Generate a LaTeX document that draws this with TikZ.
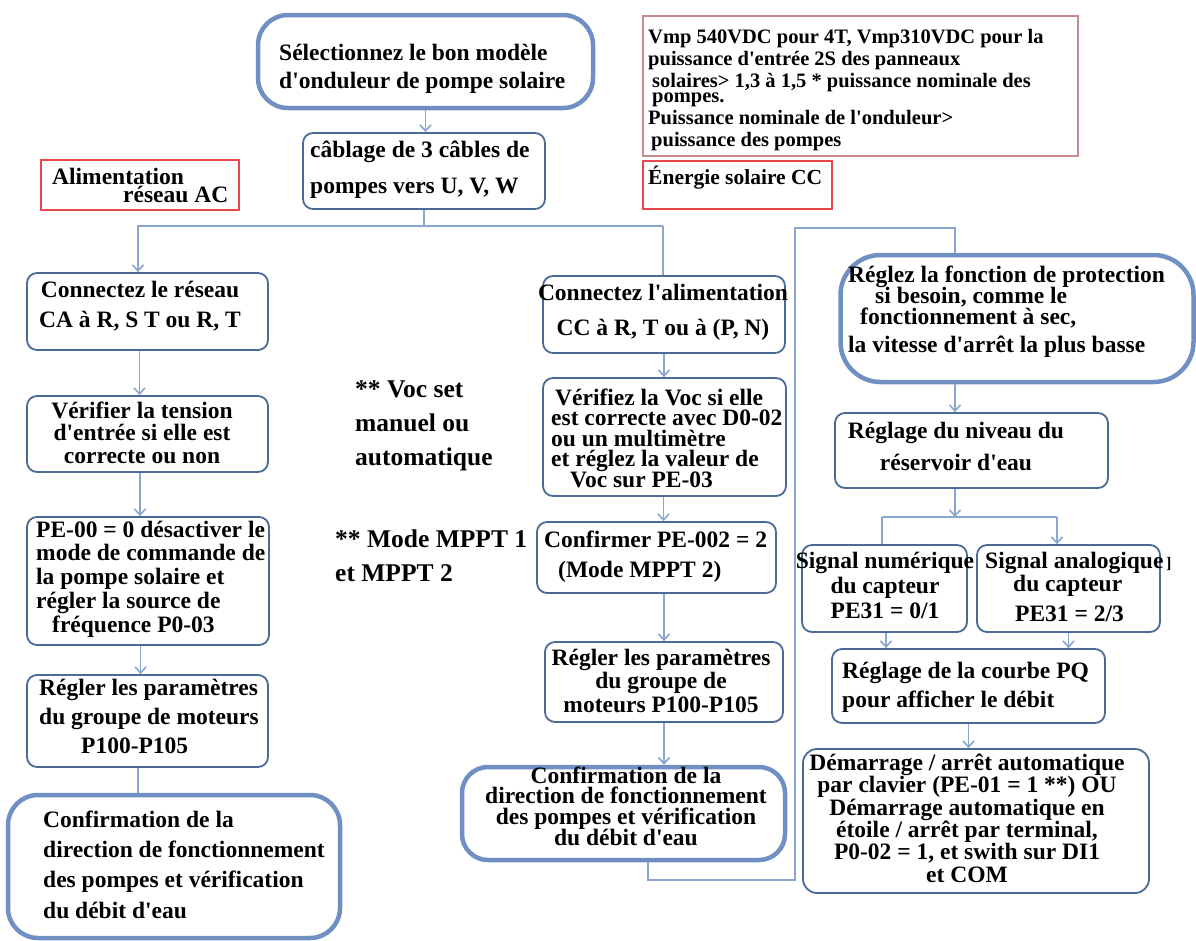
\documentclass[tikz,border=0pt]{standalone}
\usepackage{fontspec}
\setmainfont{Liberation Serif}
\usetikzlibrary{arrows.meta}
\definecolor{boxc}{HTML}{4A6A98}
\definecolor{bigc}{HTML}{7090C4}
\definecolor{linec}{HTML}{8AA6D0}
\definecolor{redc}{HTML}{E8474B}
\definecolor{pinkc}{HTML}{C98A8E}
\newcommand\myfs[2]{\bfseries\fontsize{#1}{#2}\selectfont\lineskiplimit=-100pt\relax}
\newcommand\myst{\rule{0pt}{24pt}}
\newcommand\ap{\textquotesingle}
\tikzset{
  box/.style={draw=boxc, line width=1.8pt, rounded corners=10pt},
  bigbox/.style={draw=bigc, line width=4.5pt, rounded corners=30pt},
  redbox/.style={draw=redc, line width=1.2pt},
  pinkbox/.style={draw=pinkc, line width=1.4pt},
  txt/.style={inner sep=0pt, text=black},
  ln/.style={draw=linec, line width=1.6pt},
  arr/.style={ln, -{Straight Barb[length=6pt,width=11pt]}},
}
\begin{document}
\begin{tikzpicture}[x=1pt, y=-1pt]
\fill[white] (0,0) rectangle (1196,940);
\useasboundingbox (0,0) rectangle (1196,940);

% ---- boxes ----
\node[bigbox, minimum width=335pt, minimum height=93pt] (A) at (425.5,61.5) {};
\node[box, minimum width=242pt, minimum height=76pt] (B) at (424,171) {};
\node[pinkbox, minimum width=435pt, minimum height=140pt] (V) at (860.5,86) {};
\node[redbox, minimum width=189pt, minimum height=48pt] (E) at (737.5,185) {};
\node[redbox, minimum width=198pt, minimum height=50pt] (AL) at (140,185) {};

\node[box, minimum width=241pt, minimum height=77pt] (C1) at (147.5,311.5) {};
\node[box, minimum width=241pt, minimum height=76pt] (C2) at (147.5,434) {};
\node[box, minimum width=242pt, minimum height=128pt] (C3) at (148,581) {};
\node[box, minimum width=241pt, minimum height=92pt] (C4) at (147.5,721) {};
\node[bigbox, minimum width=332pt, minimum height=143pt] (C5) at (174,866.5) {};

\node[box, minimum width=242pt, minimum height=77pt] (M1) at (664,314.5) {};
\node[box, minimum width=243pt, minimum height=118pt] (M2) at (664.5,437) {};
\node[box, minimum width=239pt, minimum height=71pt] (M3) at (656.5,557.5) {};
\node[box, minimum width=238pt, minimum height=80pt] (M4) at (664,682) {};
\node[bigbox, rounded corners=26pt, minimum width=323pt, minimum height=93pt] (M5) at (623.5,813.5) {};

\node[bigbox, rounded corners=40pt, minimum width=353pt, minimum height=127pt] (R1) at (1017,318.5) {};
\node[box, minimum width=273pt, minimum height=75pt] (R2) at (971.5,450.5) {};
\node[box, minimum width=165pt, minimum height=87pt] (R3a) at (884.5,588.5) {};
\node[box, minimum width=183pt, minimum height=87pt] (R3b) at (1068.5,588.5) {};
\node[box, minimum width=273pt, minimum height=74pt] (R4) at (968.5,686) {};
\node[box, rounded corners=14pt, minimum width=346pt, minimum height=144pt] (R5) at (976,821) {};

% ---- texts ----
\node[txt, anchor=north west, align=left, font=\myfs{23.5}{28}] (tA) at (279,36)
  {\myst Sélectionnez le bon modèle\\d\ap{}onduleur de pompe solaire};
\node[txt, anchor=north west, align=left, font=\myfs{23.5}{36}] (tB) at (310,133)
  {\myst câblage de 3 câbles de\\pompes vers U, V, W};
\node[txt, anchor=north west, align=left, font=\myfs{20.5}{22}] (tV) at (648,19)
  {\myst Vmp 540VDC pour 4T, Vmp310VDC pour la\\
   puissance d\ap{}entrée 2S des panneaux\\
   \hspace*{4pt}solaires> 1,3 à 1,5 * puissance nominale des\\[-6.5pt]
   \hspace*{4pt}pompes.\\
   Puissance nominale de l\ap{}onduleur>\\
   \hspace*{3pt}puissance des pompes};
\node[txt, anchor=north west, align=left, font=\myfs{21.5}{24}] (tE) at (648,160)
  {\myst Énergie solaire CC};
\node[txt, anchor=north west, align=left, font=\myfs{23.5}{18}] (tAL) at (52,160)
  {\myst Alimentation\\\hspace*{71pt}réseau AC};

\node[txt, anchor=north, align=center, font=\myfs{23.5}{30}] (tC1) at (140,273)
  {\myst Connectez le réseau\\CA à R, S T ou R, T};
\node[txt, anchor=north, align=center, font=\myfs{23.5}{22.5}] (tC2) at (142,394)
  {\myst Vérifier la tension\\d\ap{}entrée si elle est\\correcte ou non};
\node[txt, anchor=north west, align=left, font=\myfs{23.5}{23.75}] (tC3) at (36,513)
  {\myst PE-00 = 0 désactiver le\\mode de commande de\\la pompe solaire et\\régler la source de\\\hspace*{16pt}fréquence P0-03};
\node[txt, anchor=north west, align=left, font=\myfs{23.5}{29}] (tC4) at (39,671)
  {\myst Régler les paramètres\\du groupe de moteurs\\\hspace*{42pt}P100-P105};
\node[txt, anchor=north west, align=left, font=\myfs{23.5}{30.3}] (tC5) at (43,803)
  {\myst Confirmation de la\\direction de fonctionnement\\des pompes et vérification\\du débit d\ap{}eau};

\node[txt, anchor=north west, align=left, font=\myfs{25.5}{34}] (tVoc) at (355,373)
  {\myst ** Voc set\\manuel ou\\automatique};
\node[txt, anchor=north west, align=left, font=\myfs{25.5}{34}] (tMP) at (335,523)
  {\myst ** Mode MPPT 1\\et MPPT 2};

\node[txt, anchor=north, align=center, font=\myfs{23.5}{35}] (tM1) at (663,276)
  {\myst Connectez l\ap{}alimentation\\CC à R, T ou à (P, N)};
\node[txt, anchor=north west, align=left, font=\myfs{23.5}{20.5}] (tM2) at (551,381)
  {\myst \hspace*{4pt}Vérifiez la Voc si elle\\est correcte avec D0-02\\ou un multimètre\\et réglez la valeur de\\\hspace*{19pt}Voc sur PE-03};
\node[txt, anchor=north west, align=left, font=\myfs{23.5}{30}] (tM3) at (544,523)
  {\myst Confirmer PE-002 = 2\\\hspace*{14pt}(Mode MPPT 2)};
\node[txt, anchor=north, align=center, font=\myfs{23.5}{23.5}] (tM4) at (661,641)
  {\myst Régler les paramètres\\du groupe de\\moteurs P100-P105};
\node[txt, anchor=north, align=center, font=\myfs{23.5}{20.7}] (tM5) at (626,759)
  {\myst Confirmation de la\\direction de fonctionnement\\des pompes et vérification\\du débit d\ap{}eau};

\node[txt, anchor=north west, align=left, font=\myfs{23.5}{21}] (tR1) at (848,258)
  {\myst Réglez la fonction de protection\\\hspace*{27pt}si besoin, comme le\\\hspace*{12pt}fonctionnement à sec,\\[7pt]la vitesse d\ap{}arrêt la plus basse};
\node[txt, anchor=north, align=center, font=\myfs{23.5}{32}] (tR2) at (956,414)
  {\myst Réglage du niveau du\\réservoir d\ap{}eau};
\node[txt, anchor=north, align=center, font=\myfs{23.5}{25}] (tR3a) at (885,544)
  {\myst Signal numérique\\du capteur\\PE31 = 0/1};
\node[txt, anchor=north west, align=left, font=\myfs{23.5}{23}] (tR3b) at (985,544)
  {\myst Signal analogique{\fontsize{16}{16}\selectfont\,]}\\\hspace*{28pt}du capteur\\[7pt]\hspace*{30pt}PE31 = 2/3};
\node[txt, anchor=north west, align=left, font=\myfs{23.5}{29}] (tR4) at (842,654)
  {\myst Réglage de la courbe PQ\\pour afficher le débit};
\node[txt, anchor=north, align=center, font=\myfs{23.5}{22.4}] (tR5) at (967,746)
  {\myst Démarrage / arrêt automatique\\par clavier (PE-01 = 1 **) OU\\Démarrage automatique en\\étoile / arrêt par terminal,\\P0-02 = 1, et swith sur DI1\\et COM};

% ---- connectors ----
\coordinate (jL) at (138,226);
\coordinate (jR) at (663,226);
\coordinate (k1) at (795,880);
\coordinate (k2) at (795,228);
\coordinate (s) at (955,517);
\coordinate (sL) at (882,517);
\coordinate (sR) at (1057,517);

\draw[arr] (A.south) -- (A.south |- B.north);
\draw[ln] (B.south) -- (B.south |- jL);
\draw[arr] (jR) -- (jL) -- (jL |- C1.north);
\draw[ln] (jR) -- (jR |- M1.north);

\draw[arr] ([xshift=-8pt]C1.south) -- ([xshift=-8pt]C2.north);
\draw[arr] ([xshift=-7.5pt]C2.south) -- ([xshift=-8pt]C3.north);
\draw[arr] ([xshift=-7.5pt]C3.south) -- ([xshift=-7pt]C4.north);
\draw[ln] ([xshift=-9.5pt]C4.south) -- ([xshift=-9.5pt]C4.south |- C5.north);

\draw[arr] (M1.south) -- (M1.south |- M2.north);
\draw[arr] ([xshift=-1pt]M2.south) -- ([xshift=-1pt]M2.south |- M3.north);
\draw[arr] (M4.north |- M3.south) -- (M4.north);
\draw[arr] (M4.south) -- (M4.south |- M5.north);
\draw[ln] ([xshift=24.5pt]M5.south) |- (k1) -- (k2) -| ([xshift=-62pt]R1.north);

\draw[arr] ([xshift=-62pt]R1.south) -- ([xshift=-16.5pt]R2.north);
\draw[arr] ([xshift=-16.5pt]R2.south) -- (s);
\draw[ln] (sL) -- (sR);
\draw[ln] (sL) -- (sL |- R3a.north);
\draw[arr] (sR) -- (sR |- R3b.north);
\draw[arr] ([xshift=1.5pt]R3a.south) -- ([xshift=1.5pt]R3a.south |- R4.north);
\draw[arr] (R3b.south) -- (R3b.south |- R4.north);
\draw[arr] (R4.south) -- (R4.south |- R5.north);
\end{tikzpicture}
\end{document}
